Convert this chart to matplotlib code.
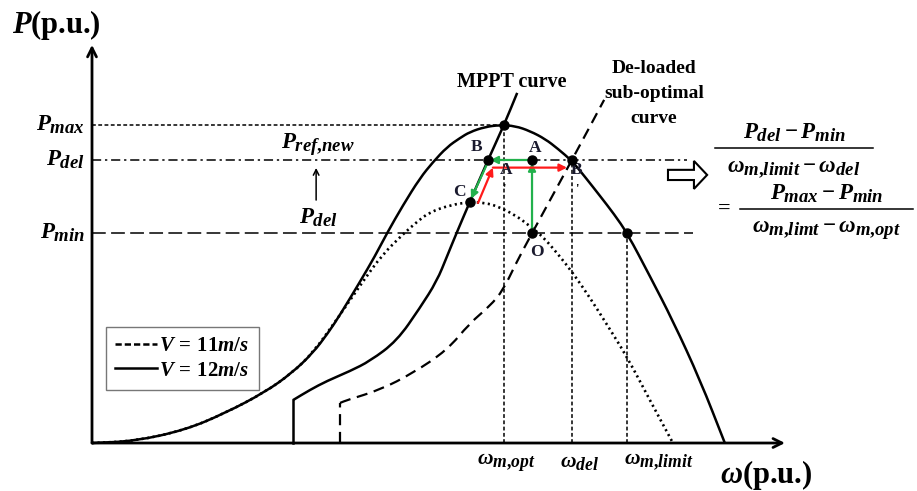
import numpy as np
import matplotlib
matplotlib.use('Agg')
import matplotlib.pyplot as plt
import matplotlib._mathtext as mathtext
from matplotlib.lines import Line2D
from matplotlib.patches import FancyArrow, PathPatch
from matplotlib.path import Path

plt.rcParams['font.family'] = ['Liberation Serif', 'DejaVu Serif']
plt.rcParams['font.weight'] = 'bold'
plt.rcParams['mathtext.fontset'] = 'custom'
plt.rcParams['mathtext.it'] = 'Liberation Serif:italic:bold'
plt.rcParams['mathtext.rm'] = 'Liberation Serif:bold'
plt.rcParams['mathtext.bf'] = 'Liberation Serif:bold'
# larger subscripts, closer to Cambria Math
if hasattr(mathtext, 'SHRINK_FACTOR'):
    mathtext.SHRINK_FACTOR = 0.82

# operating levels (p.u.)
w_opt, w_del, w_lim, w_o = 1.0, 1.165, 1.299, 1.068
p_max, p_del, p_min = 1.0, 0.890, 0.660

# power curve, V = 12 m/s
v12_w = [0, 0.104, 0.226, 0.323, 0.420, 0.485, 0.536, 0.573, 0.602, 0.650, 0.687,
         0.716, 0.755, 0.796, 0.828, 0.862, 0.893, 0.917, 0.954, 0.990, 1.027, 1.063,
         1.100, 1.131, 1.165, 1.199, 1.233, 1.267, 1.299, 1.354, 1.410, 1.476, 1.536]
v12_p = [0, 0.006, 0.041, 0.094, 0.160, 0.220, 0.283, 0.346, 0.403, 0.506, 0.588,
         0.660, 0.748, 0.833, 0.884, 0.931, 0.959, 0.978, 0.994, 1.0, 0.997, 0.981,
         0.956, 0.925, 0.887, 0.833, 0.777, 0.720, 0.660, 0.525, 0.384, 0.198, 0]

# power curve, V = 11 m/s
v11_w = [0, 0.104, 0.226, 0.323, 0.420, 0.485, 0.536, 0.602, 0.658, 0.704, 0.755,
         0.791, 0.820, 0.869, 0.917, 0.954, 0.983, 1.027, 1.063, 1.095, 1.131, 1.167,
         1.209, 1.252, 1.299, 1.354, 1.410]
v11_p = [0, 0.006, 0.041, 0.094, 0.160, 0.220, 0.283, 0.403, 0.509, 0.591, 0.657,
         0.698, 0.726, 0.748, 0.758, 0.755, 0.745, 0.717, 0.682, 0.648, 0.594, 0.535,
         0.456, 0.368, 0.270, 0.135, 0]

# MPPT curve
mppt_w = [0.488, 0.488, 0.529, 0.570, 0.626, 0.675, 0.740, 0.796, 0.837, 0.862,
          0.886, 0.917, 0.961, 1.0, 1.032]
mppt_p = [0, 0.135, 0.167, 0.195, 0.226, 0.258, 0.321, 0.425, 0.509, 0.588,
          0.664, 0.758, 0.890, 1.0, 1.101]

# de-loaded sub-optimal curve
deload_w = [0.602, 0.602, 0.619, 0.699, 0.779, 0.862, 0.917, 0.966, 0.998, 1.027,
            1.068, 1.165, 1.243]
deload_p = [0, 0.126, 0.135, 0.167, 0.220, 0.292, 0.377, 0.431, 0.481, 0.560,
            0.660, 0.890, 1.079]

# operating points B and C on the MPPT curve
w_b, w_c, p_c = 0.961, 0.917, 0.758

GREEN = '#22b14c'
RED = '#ff1a1a'
FINE = (0, (2.5, 1.6))


def arrow(ax, start, end, color, lw=1.6, style='-|>', ms=11):
    ax.annotate('', xy=end, xytext=start,
                arrowprops=dict(arrowstyle=style, color=color, lw=lw,
                                mutation_scale=ms, shrinkA=0, shrinkB=0))


def smooth(ax, w, p, **kw):
    """Draw a curve through the points as a chain of quadratic beziers."""
    pts = np.column_stack([w, p])
    mids = (pts[:-1] + pts[1:]) / 2
    verts = [pts[0], mids[0]]
    codes = [Path.MOVETO, Path.LINETO]
    for i in range(1, len(pts) - 1):
        verts += [pts[i], mids[i]]
        codes += [Path.CURVE3, Path.CURVE3]
    verts.append(pts[-1])
    codes.append(Path.LINETO)
    ax.add_patch(PathPatch(Path(verts, codes), fill=False, edgecolor='k', **kw))


def main():
    fig = plt.figure(figsize=(9.17, 4.91), dpi=100)
    ax = fig.add_axes([0, 0, 1, 1])
    ax.set_xlim(-0.2233, 2.0024)
    ax.set_ylim(-0.1509, 1.3931)
    ax.axis('off')

    # axes with arrow heads
    arrow(ax, (0, 0), (1.682, 0), 'k', lw=2.0, style='->', ms=16)
    arrow(ax, (0, 0), (0, 1.252), 'k', lw=2.0, style='->', ms=16)

    # reference levels
    ax.plot([0, w_opt], [p_max, p_max], color='k', lw=1.1, ls=FINE)
    ax.plot([0, 1.444], [p_del, p_del], color='k', lw=1.1, ls=(0, (6, 2.5, 1.5, 2.5)))
    ax.plot([0, 1.459], [p_min, p_min], color='k', lw=1.1, ls=(0, (9, 3.5)))
    ax.plot([w_opt, w_opt], [0, p_max], color='k', lw=1.1, ls=FINE)
    ax.plot([w_del, w_del], [0, p_del], color='k', lw=1.1, ls=FINE)
    ax.plot([w_lim, w_lim], [0, p_min], color='k', lw=1.1, ls=FINE)

    # curves
    smooth(ax, v12_w, v12_p, lw=1.8)
    smooth(ax, v11_w, v11_p, lw=1.9, ls=(0, (0.8, 1.3)))
    ax.plot(mppt_w[:2], mppt_p[:2], color='k', lw=1.8)
    smooth(ax, mppt_w[1:], mppt_p[1:], lw=1.8)
    ax.plot(deload_w[:2], deload_p[:2], color='k', lw=1.6, ls=(0, (5, 3)))
    smooth(ax, deload_w[1:], deload_p[1:], lw=1.6, ls=(0, (5, 3)))

    # control path arrows
    arrow(ax, (w_o, p_del), (w_b + 0.006, p_del), GREEN)
    arrow(ax, (w_b - 0.003, p_del - 0.015), (w_c + 0.003, p_c + 0.01), GREEN)
    arrow(ax, (w_o, p_min), (w_o, p_del - 0.01), GREEN)
    arrow(ax, (w_c + 0.02, p_c - 0.003), (w_b + 0.012, 0.866), RED)
    arrow(ax, (w_b + 0.012, 0.866), (w_del - 0.012, 0.866), RED)

    pts_w = [w_opt, w_b, w_o, w_del, w_c, w_o, w_lim]
    pts_p = [p_max, p_del, p_del, p_del, p_c, p_min, p_min]
    ax.plot(pts_w, pts_p, 'o', color='k', ms=6.5, zorder=5)

    lab = dict(fontsize=12.5, ha='center', va='center', color='#1a1a2e')
    ax.text(1.075, 0.928, 'A', **lab)
    ax.text(0.934, 0.931, 'B', **lab)
    ax.text(0.891, 0.789, 'C', **lab)
    ax.text(1.080, 0.600, 'O', **lab)
    ax.text(1.005, 0.858, 'A', **lab)
    ax.text(1.000, 0.800, "'", fontsize=9, ha='center', va='center')
    ax.text(1.177, 0.858, 'B', **lab)
    ax.text(1.177, 0.800, "'", fontsize=9, ha='center', va='center')

    ax.text(1.019, 1.135, 'MPPT curve', fontsize=14.5, ha='center', va='center')
    ax.text(1.364, 1.100, 'De-loaded\nsub-optimal\ncurve', fontsize=14,
            ha='center', va='center', linespacing=1.6)

    # axis titles and tick labels
    ax.text(-0.194, 1.314, r'$P$(p.u.)', fontsize=22, ha='left', va='center')
    ax.text(1.524, -0.101, r'$\omega$(p.u.)', fontsize=22, ha='left', va='center')
    ax.text(-0.017, p_max, r'$P_{max}$', fontsize=16.5, ha='right', va='center')
    ax.text(-0.017, p_del, r'$P_{del}$', fontsize=16.5, ha='right', va='center')
    ax.text(-0.017, p_min, r'$P_{min}$', fontsize=16.5, ha='right', va='center')
    ax.text(1.005, -0.06, r'$\omega_{m{,}opt}$', fontsize=15.5, ha='center', va='center')
    ax.text(1.184, -0.06, r'$\omega_{del}$', fontsize=15.5, ha='center', va='center')
    ax.text(1.376, -0.06, r'$\omega_{m{,}limit}$', fontsize=15.5, ha='center', va='center')

    ax.text(0.549, 0.937, r'$P_{ref{,}new}$', fontsize=16.5, ha='center', va='center')
    ax.text(0.549, 0.708, r'$P_{del}$', fontsize=16.5, ha='center', va='center')
    arrow(ax, (0.544, 0.764), (0.544, 0.865), 'k', lw=1.1, style='->', ms=10)

    # slope relation of the de-loaded curve
    ax.add_patch(FancyArrow(1.398, 0.843, 0.095, 0, width=0.032, head_width=0.088,
                            head_length=0.032, length_includes_head=True,
                            fc='white', ec='k', lw=1.5))
    ax.text(1.704, 0.975, r'$P_{del} - P_{min}$', fontsize=16.5, ha='center', va='center')
    ax.plot([1.512, 1.896], [0.928, 0.928], color='k', lw=1.1)
    ax.text(1.704, 0.862, r'$\omega_{m{,}limit} - \omega_{del}$', fontsize=16.5,
            ha='center', va='center')
    ax.text(1.534, 0.736, '=', fontsize=16, ha='center', va='center')
    ax.text(1.782, 0.782, r'$P_{max} - P_{min}$', fontsize=16.5, ha='center', va='center')
    ax.plot([1.573, 1.993], [0.736, 0.736], color='k', lw=1.1)
    ax.text(1.782, 0.668, r'$\omega_{m{,}limt} - \omega_{m{,}opt}$', fontsize=16.5,
            ha='center', va='center')

    handles = [Line2D([], [], color='k', lw=1.8, ls=(0, (2.5, 1.2))),
               Line2D([], [], color='k', lw=1.8)]
    ax.legend(handles, [r'$V\,=\,11m/s$', r'$V\,=\,12m/s$'], loc='lower left',
              bbox_to_anchor=(106 / 917, 1 - 390 / 491), fancybox=False,
              edgecolor='#777777', framealpha=1, fontsize=15, handlelength=2.0,
              handletextpad=0.1, borderpad=0.45, labelspacing=0.2, borderaxespad=0)

    fig.savefig('out.png', dpi=100)


if __name__ == '__main__':
    main()
